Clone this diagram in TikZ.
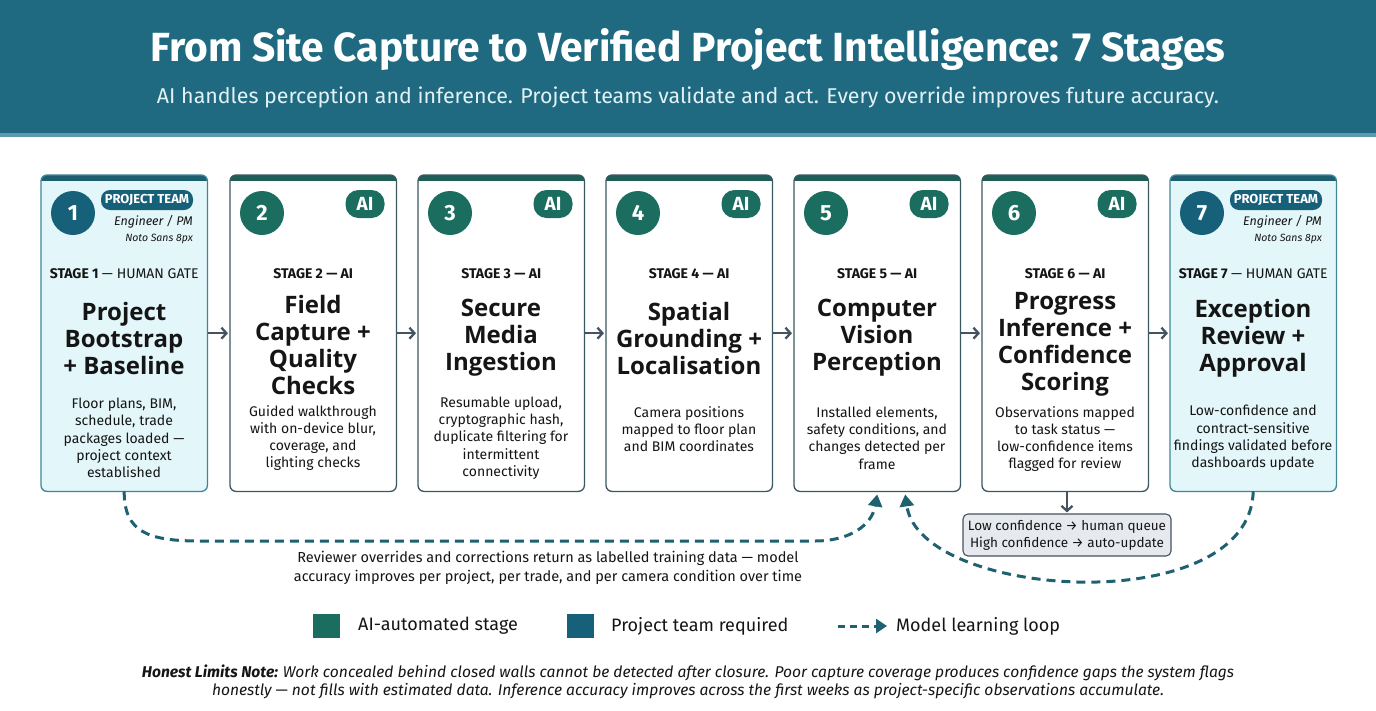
\documentclass[tikz,border=0pt]{standalone}
\usepackage{fontspec}
\setmainfont{Fira Sans}
\newfontfamily\notofont{Open Sans}
\usetikzlibrary{arrows.meta,calc}
\definecolor{hdr}{HTML}{1F6A80}
\definecolor{hdrline}{HTML}{5E9AAB}
\definecolor{subtxt}{HTML}{E2F1F5}
\definecolor{aigreen}{HTML}{1B6D5F}
\definecolor{teamblue}{HTML}{17607A}
\definecolor{stripeai}{HTML}{1F5E57}
\definecolor{stripeteam}{HTML}{1D5F70}
\definecolor{borderai}{HTML}{3A5860}
\definecolor{borderteam}{HTML}{3F8797}
\definecolor{fillteam}{HTML}{E3F6FA}
\definecolor{ink}{HTML}{151515}
\definecolor{greyarrow}{HTML}{455360}
\definecolor{loopcol}{HTML}{1E6170}
\definecolor{tipfill}{HTML}{E6EAEE}
\tikzset{
  cardai/.style={fill=white, inner sep=0pt, rounded corners=6pt},
  cardteam/.style={fill=fillteam, inner sep=0pt, rounded corners=6pt},
  numai/.style={circle, fill=aigreen, text=white, minimum size=44pt, inner sep=0pt, font=\bfseries\fontsize{22}{22}\selectfont},
  numteam/.style={circle, fill=teamblue, text=white, minimum size=44pt, inner sep=0pt, font=\bfseries\fontsize{22}{22}\selectfont},
  aibadge/.style={rounded corners=13pt, fill=aigreen, text=white, minimum width=39pt, minimum height=28pt, inner sep=0pt, font=\bfseries\fontsize{19}{19}\selectfont},
  teambadge/.style={rounded corners=9pt, fill=teamblue, text=white, minimum width=92pt, minimum height=20pt, inner sep=0pt, font=\bfseries\fontsize{13}{13}\selectfont},
  rolelbl/.style={anchor=east, inner sep=0pt, text=ink, font=\itshape\fontsize{12.5}{13}\selectfont},
  fontlbl/.style={anchor=east, inner sep=0pt, text=ink, font=\itshape\fontsize{10.5}{11}\selectfont},
  stagelbl/.style={inner sep=0pt, text=ink, font=\fontsize{14}{15}\selectfont},
  titlelbl/.style={inner sep=0pt, align=center, text=ink, font=\notofont\bfseries\fontsize{24}{27}\selectfont},
  desclbl/.style={inner sep=0pt, align=center, text=ink, font=\fontsize{14}{17.3}\selectfont},
  flowarrow/.style={draw=greyarrow, line width=2.5pt, -{Straight Barb[length=5pt,width=11pt,line width=2.3pt]}, shorten <=1pt, shorten >=2pt},
  loopline/.style={draw=loopcol, line width=3pt, dash pattern=on 9pt off 6pt, -{Triangle[length=12pt,width=14pt]}},
  tipbox/.style={draw=greyarrow, fill=tipfill, line width=1.1pt, rounded corners=5pt, minimum width=208pt, minimum height=42pt, align=center, inner sep=0pt, text=ink, font=\fontsize{13.5}{17}\selectfont},
}
\newcommand\mkcard[3]{%
  \node[card#3, minimum width=166pt, minimum height=316pt, anchor=north west] (#1) at (#2,175) {};
  \begin{scope}
    \clip[rounded corners=6pt] (#1.north west) rectangle (#1.south east);
    \fill[stripe#3] (#1.north west) rectangle ([yshift=-6pt]#1.north east);
  \end{scope}
  \draw[border#3, rounded corners=6pt, line width=1.3pt] (#1.north west) rectangle (#1.south east);
}
\newcommand\aihead[2]{% name, number
  \node[numai] (#1num) at ($(#1.north west)+(32,38)$) {#2};
  \node[aibadge] (#1badge) at ($(#1.north west)+(135,29)$) {AI};
  \node[stagelbl] (#1stage) at ($(#1.north)+(0,99)$) {\bfseries STAGE #2 — AI};
}
\newcommand\teamhead[2]{%
  \node[numteam] (#1num) at ($(#1.north west)+(32,38)$) {#2};
  \node[teambadge] (#1badge) at ($(#1.north west)+(106,25)$) {PROJECT TEAM};
  \node[rolelbl] (#1role) at ($(#1.north west)+(152,47)$) {Engineer / PM};
  \node[fontlbl] (#1font) at ($(#1.north west)+(152,64)$) {Noto Sans 8px};
  \node[stagelbl] (#1stage) at ($(#1.north)+(0,99)$) {\bfseries STAGE #2 \mdseries— HUMAN GATE};
}
\begin{document}
\begin{tikzpicture}[x=1pt,y=-1pt]
\useasboundingbox (0,0) rectangle (1376,710);
\fill[white] (0,0) rectangle (1376,710);
\fill[hdr] (0,0) rectangle (1376,133);
\fill[hdrline] (0,133) rectangle (1376,137);
\node[text=white, font=\bfseries\fontsize{40.7}{44}\selectfont] (title) at (688,50) {From Site Capture to Verified Project Intelligence: 7 Stages};
\node[text=subtxt, font=\fontsize{21.4}{24}\selectfont] (subtitle) at (688,97) {AI handles perception and inference. Project teams validate and act. Every override improves future accuracy.};

% cards
\mkcard{c1}{41}{team}
\mkcard{c2}{230}{ai}
\mkcard{c3}{418}{ai}
\mkcard{c4}{606}{ai}
\mkcard{c5}{794}{ai}
\mkcard{c6}{982}{ai}
\mkcard{c7}{1170}{team}

\teamhead{c1}{1}
\aihead{c2}{2}
\aihead{c3}{3}
\aihead{c4}{4}
\aihead{c5}{5}
\aihead{c6}{6}
\teamhead{c7}{7}

% titles
\node[titlelbl] (c1title) at (124,338) {Project\\Bootstrap\\+ Baseline};
\node[titlelbl] (c2title) at (313,345) {Field\\Capture +\\Quality\\Checks};
\node[titlelbl] (c3title) at (501,338) {Secure\\Media\\Ingestion};
\node[titlelbl] (c4title) at (689,338) {Spatial\\Grounding +\\Localisation};
\node[titlelbl] (c5title) at (877,338) {Computer\\Vision\\Perception};
\node[titlelbl] (c6title) at (1065,344) {Progress\\Inference +\\Confidence\\Scoring};
\node[titlelbl] (c7title) at (1253,338) {Exception\\Review +\\Approval};

% descriptions
\node[desclbl] (c1desc) at (124,438) {Floor plans, BIM,\\schedule, trade\\packages loaded —\\project context\\established};
\node[desclbl] (c2desc) at (313,438) {Guided walkthrough\\with on-device blur,\\coverage, and\\lighting checks};
\node[desclbl] (c3desc) at (501,438) {Resumable upload,\\cryptographic hash,\\duplicate filtering for\\intermittent\\connectivity};
\node[desclbl] (c4desc) at (689,429) {Camera positions\\mapped to floor plan\\and BIM coordinates};
\node[desclbl] (c5desc) at (877,438) {Installed elements,\\safety conditions, and\\changes detected per\\frame};
\node[desclbl] (c6desc) at (1065,439) {Observations mapped\\to task status —\\low-confidence items\\flagged for review};
\node[desclbl] (c7desc) at (1253,438) {Low-confidence and\\contract-sensitive\\findings validated before\\dashboards update};

% flow arrows
\draw[flowarrow] (c1.east) -- (c2.west);
\draw[flowarrow] (c2.east) -- (c3.west);
\draw[flowarrow] (c3.east) -- (c4.west);
\draw[flowarrow] (c4.east) -- (c5.west);
\draw[flowarrow] (c5.east) -- (c6.west);
\draw[flowarrow] (c6.east) -- (c7.west);

% confidence tooltip
\node[tipbox] (tip) at (1067,535) {Low confidence → human queue\\High confidence → auto-update};
\draw[flowarrow, shorten <=0pt, shorten >=1pt] (c6.south -| tip.north) -- (tip.north);

% learning loops
\coordinate (l1end) at ($(c5.south)+(0,3)$);
\coordinate (l2end) at ($(c5.south)+(28,3)$);
\draw[loopline] (c1.south) .. controls (124,532) and (148,541) .. (200,541) -- (815,541) .. controls (850,541) and (872,525) .. (l1end);
\draw[loopline] (c7.south) .. controls (1250,620) and (920,600) .. (l2end);

\node[align=center, inner sep=0pt, text=ink, font=\fontsize{14.5}{19}\selectfont] (loopnote) at (548,568) {Reviewer overrides and corrections return as labelled training data — model\\accuracy improves per project, per trade, and per camera condition over time};

% legend
\node[fill=aigreen, minimum width=27pt, minimum height=24pt, inner sep=0pt] (legai) at (326.5,626) {};
\node[anchor=west, inner sep=0pt, text=ink, font=\fontsize{18}{20}\selectfont] (legaitxt) at (358,626) {AI-automated stage};
\node[fill=teamblue, minimum width=27pt, minimum height=24pt, inner sep=0pt] (legteam) at (580.5,626) {};
\node[anchor=west, inner sep=0pt, text=ink, font=\fontsize{18}{20}\selectfont] (legteamtxt) at (611,626) {Project team required};
\coordinate (legls) at (838,626);
\coordinate (legle) at (887,626);
\draw[draw=loopcol, line width=3pt, dash pattern=on 7pt off 5pt, -{Triangle[length=11pt,width=14pt]}] (legls) -- (legle);
\node[anchor=west, inner sep=0pt, text=ink, font=\fontsize{18}{20}\selectfont] (leglooptxt) at (896,626) {Model learning loop};

% honest limits note
\node[align=center, inner sep=0pt, text=ink, font=\itshape\fontsize{15.6}{18.5}\selectfont] (note) at (688,682) {\bfseries Honest Limits Note: \mdseries Work concealed behind closed walls cannot be detected after closure. Poor capture coverage produces confidence gaps the system flags\\honestly — not fills with estimated data. Inference accuracy improves across the first weeks as project-specific observations accumulate.};
\end{tikzpicture}
\end{document}
